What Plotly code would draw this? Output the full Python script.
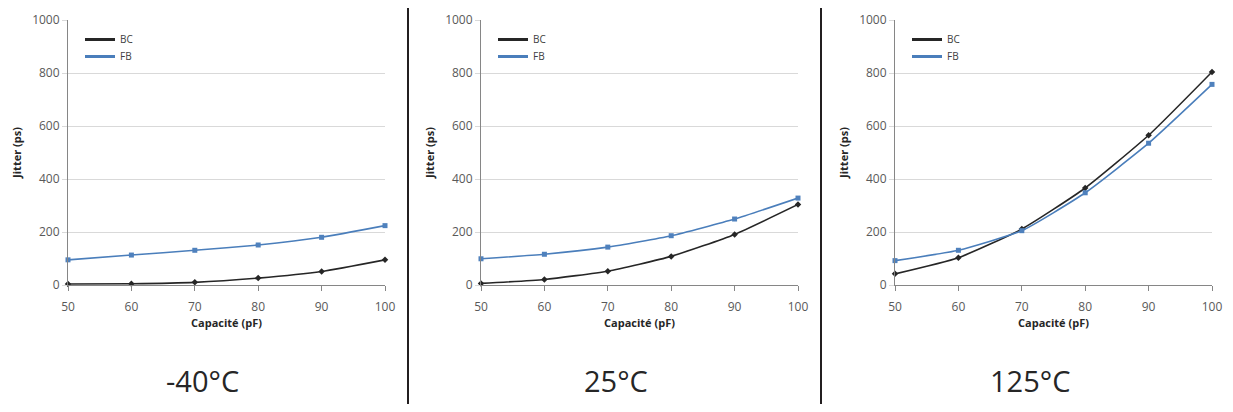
import plotly.graph_objects as go

capacite = [50, 60, 70, 80, 90, 100]
temperatures = ["-40°C", "25°C", "125°C"]
bc_values = [
    [4, 5, 10, 26, 51, 95],
    [6, 21, 52, 108, 191, 304],
    [42, 103, 211, 366, 565, 804],
]
fb_values = [
    [95, 113, 131, 151, 180, 224],
    [99, 116, 143, 186, 249, 328],
    [92, 131, 205, 348, 535, 757],
]
y_ticks = [0, 200, 400, 600, 800, 1000]
series_names = ["BC", "FB"]

# page body has an 8px margin: figure is sized to fill the rest of the window
OFF = 8
W, H = 1233 - 2 * OFF, 412 - 2 * OFF
FONT = "Open Sans, Noto Sans, sans-serif"
BC_COLOR = "#262626"
FB_COLOR = "#4a7ebb"
FB_MARK = "#4f81bd"
COLORS = [BC_COLOR, FB_COLOR]


def px(x):
    return (x - OFF) / W


def py(y):
    return 1 - (y - OFF) / H


# pixel layout of plot areas (window coordinates)
x_left = [68, 481, 895]
x_right = [385, 798, 1212]
y_top, y_bot = 20, 285
legend_y = [25, 42]

fig = go.Figure()
layout = dict(
    width=W, height=H,
    margin=dict(l=0, r=0, t=0, b=0, autoexpand=False),
    paper_bgcolor="white", plot_bgcolor="white",
    showlegend=True,
    font=dict(family=FONT, color="#595959", size=11),
    shapes=[], annotations=[],
)

leg_idx = 0
for i in range(3):
    s = "" if i == 0 else str(i + 1)
    xa, ya = "x" + s, "y" + s
    fig.add_trace(go.Scatter(
        x=capacite, y=bc_values[i], mode="lines+markers", name=series_names[0],
        line=dict(color=BC_COLOR, width=1.6, shape="spline", smoothing=0.5),
        marker=dict(symbol="diamond", size=5, color=BC_COLOR),
        xaxis=xa, yaxis=ya, showlegend=False, cliponaxis=False))
    fig.add_trace(go.Scatter(
        x=capacite, y=fb_values[i], mode="lines+markers", name=series_names[1],
        line=dict(color=FB_COLOR, width=1.6, shape="spline", smoothing=0.5),
        marker=dict(symbol="square", size=5, color=FB_MARK),
        xaxis=xa, yaxis=ya, showlegend=False, cliponaxis=False))
    # legend entries (line only), one small legend per entry
    for k in range(2):
        leg_idx += 1
        leg = "legend" if leg_idx == 1 else "legend" + str(leg_idx)
        fig.add_trace(go.Scatter(
            x=[None], y=[None], mode="lines", name=series_names[k],
            line=dict(color=COLORS[k], width=3), xaxis=xa, yaxis=ya, legend=leg))
        layout[leg] = dict(
            x=px(x_left[i] + 12), y=py(legend_y[k]), xanchor="left", yanchor="top",
            bgcolor="rgba(0,0,0,0)", font=dict(size=10, color="#404040", family=FONT),
        )

    layout["xaxis" + s] = dict(
        domain=[px(x_left[i]), px(x_right[i])], anchor=ya, automargin=False,
        range=[50, 100], tickvals=capacite, ticks="outside", ticklen=5,
        ticklabelstandoff=6,
        tickcolor="#868686", showline=True, linecolor="#868686", linewidth=1,
        showgrid=False, zeroline=False,
        tickfont=dict(size=12, color="#595959", family=FONT),
        title=dict(text="<b>Capacité (pF)</b>", standoff=4,
                   font=dict(size=11, color="#262626", family=FONT)),
    )
    layout["yaxis" + s] = dict(
        domain=[py(y_bot), py(y_top)], anchor=xa, automargin=False,
        range=[0, 1000], tickvals=y_ticks, ticks="outside", ticklen=5,
        tickcolor="#d9d9d9", showline=True, linecolor="#868686", linewidth=1,
        showgrid=True, gridcolor="#d9d9d9", gridwidth=1, zeroline=False,
        tickfont=dict(size=12, color="#595959", family=FONT),
        title=dict(text="<b>Jitter (ps)</b>", standoff=8,
                   font=dict(size=11, color="#262626", family=FONT)),
    )
    layout["annotations"].append(dict(
        x=px((x_left[i] + x_right[i]) / 2 - 24), y=py(380), xref="paper", yref="paper",
        text=temperatures[i], showarrow=False, xanchor="center", yanchor="middle",
        font=dict(size=29, color="#262626", family=FONT)))

for xd in [408, 821]:
    layout["shapes"].append(dict(
        type="line", xref="paper", yref="paper", x0=px(xd), x1=px(xd),
        y0=0, y1=py(8), line=dict(color="#231f20", width=2)))

fig.update_layout(**layout)
fig.write_html("out.html")
